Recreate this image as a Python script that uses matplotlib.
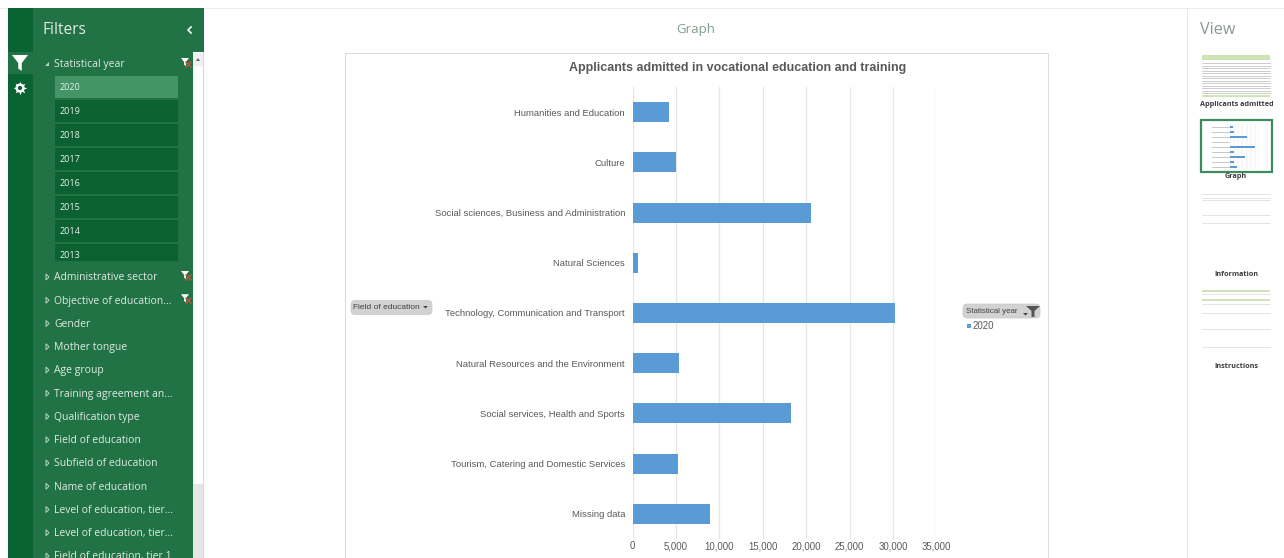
import matplotlib
matplotlib.use("Agg")
import matplotlib.pyplot as plt
from matplotlib.patches import Rectangle, FancyBboxPatch, Polygon, Circle
from matplotlib.ticker import FuncFormatter

W, H = 1284, 558
categories = ["Humanities and Education", "Culture", "Social sciences, Business and Administration",
              "Natural Sciences", "Technology, Communication and Transport",
              "Natural Resources and the Environment", "Social services, Health and Sports",
              "Tourism, Catering and Domestic Services", "Missing data"]
applicants = [4200, 5000, 20550, 600, 30250, 5350, 18250, 5250, 8900]
x_ticks = [0, 5000, 10000, 15000, 20000, 25000, 30000, 35000]
title = "Applicants admitted in vocational education and training"
years = ["2020", "2019", "2018", "2017", "2016", "2015", "2014", "2013"]
filters = ["Administrative sector", "Objective of education...", "Gender", "Mother tongue", "Age group",
           "Training agreement an...", "Qualification type", "Field of education", "Subfield of education",
           "Name of education", "Level of education, tier...", "Level of education, tier...", "Field of education, tier 1"]

UI = "Open Sans"
CH = "Liberation Sans"
fig = plt.figure(figsize=(W / 100, H / 100), dpi=100, facecolor="white")

ui = fig.add_axes([0, 0, 1, 1], zorder=0)
ui.set_xlim(0, W); ui.set_ylim(H, 0); ui.axis("off")

def rect(x0, y0, x1, y1, c, **k):
    ui.add_patch(Rectangle((x0, y0), x1 - x0, y1 - y0, fc=c, ec="none", **k))

def filter_icon(cx, cy, s, cross=False):
    ui.add_patch(Polygon([(cx - s, cy - s), (cx + s, cy - s), (cx + s * .22, cy), (cx + s * .22, cy + s),
                          (cx - s * .22, cy + s * .7), (cx - s * .22, cy)], fc="white", ec="none"))
    if cross:
        ui.plot([cx + 1, cx + 6], [cy, cy + 5], color="#c8503a", lw=1)
        ui.plot([cx + 1, cx + 6], [cy + 5, cy], color="#c8503a", lw=1)

GREEN, DARK = "#217346", "#0a6332"
rect(0, 8, W, 9, "#ececec")
rect(8, 8, 204, 558, GREEN)
rect(8, 8, 33, 558, DARK)
rect(8, 52, 33, 74, GREEN)
rect(193, 52, 204, 484, "white")
rect(193, 484, 204, 558, "#e6e6e6")
rect(203, 52, 204, 558, "#d8d8d8")
rect(193, 53, 203, 66, "#f0f0f0")
ui.add_patch(Polygon([(196, 61), (198, 58), (200, 61)], fc="#666666", ec="none"))
filter_icon(20, 63, 8)
# gear icon
ui.scatter([20], [88], s=95, marker=(8, 1, 0), color="white", zorder=3, linewidths=0)
ui.add_patch(Circle((20, 88), 4.6, fc="white", ec="none", zorder=3))
ui.add_patch(Circle((20, 88), 2.1, fc=DARK, ec="none", zorder=4))
ui.text(42, 30, "Filters", color="#dfeae4", fontsize=11.2, va="center", family=UI)
ui.plot([191, 188, 191], [27, 30, 33], color="white", lw=1.2)

ui.add_patch(Polygon([(45, 66), (49, 66), (49, 62)], fc="#b9d4c4", ec="none"))
ui.text(54, 64.8, "Statistical year", color="#dfeae4", fontsize=7.5, va="center", family=UI)
filter_icon(185, 62, 4, True)
item_tops = [76, 100, 124, 148, 172, 196, 220, 244]
item_bottoms = [98, 122, 146, 170, 194, 218, 242, 261]
for i, (yr, t, b) in enumerate(zip(years, item_tops, item_bottoms)):
    rect(55, t, 178, b, "#439467" if i == 0 else "#0c6132")
    ui.text(60, t + 11, yr, color="#e6f0ea", fontsize=6.5, va="center", family=UI)
for i, f in enumerate(filters):
    y = 277 + i * 23.25
    ui.add_patch(Polygon([(46, y - 3), (46, y + 3), (49, y)], fc="none", ec="#b9d4c4", lw=.7))
    ui.text(54, y + 1, f, color="#dfeae4", fontsize=7.5, va="center", family=UI, clip_on=True)
    if i < 2:
        filter_icon(185, y - 2, 4, True)

ui.text(696, 30, "Graph", color="#7fa08e", fontsize=9.5, ha="center", va="center", family=UI)
ui.add_patch(Rectangle((345, 52.5), 703, 520, fc="white", ec="#dcdcdc", lw=.8))

# pivot field buttons and legend
ui.add_patch(FancyBboxPatch((351, 300.5), 81, 14, boxstyle="round,pad=0,rounding_size=4", fc="#d2d2d2", ec="#c8c8c8", lw=.5))
ui.text(353, 307.5, "Field of education", color="#404040", fontsize=6, va="center", family=CH)
ui.add_patch(Polygon([(423, 306), (428, 306), (425.5, 308.5)], fc="#444444", ec="none"))
ui.add_patch(FancyBboxPatch((963, 304), 77, 14, boxstyle="round,pad=0,rounding_size=4", fc="#d2d2d2", ec="#c8c8c8", lw=.5))
ui.text(966, 311.3, "Statistical year", color="#404040", fontsize=5.7, va="center", family=CH)
ui.add_patch(Polygon([(1026, 306), (1040, 306), (1034.5, 311), (1034.5, 317), (1031.5, 317), (1031.5, 311)], fc="#555555", ec="none"))
ui.add_patch(Polygon([(1023, 313), (1028, 313), (1025.5, 315.5)], fc="#444444", ec="none"))
rect(967, 324, 971, 328, "#5b9bd5")
ui.text(973, 326, "2020", color="#595959", fontsize=7, va="center", family=CH)

# view pane
rect(1187, 8, 1188, 558, "#e8e8e8")
ui.text(1200, 30, "View", color="#8a9a92", fontsize=11.6, va="center", family=UI)
for lab, cy in [("Applicants admitted in", 105), ("Graph", 177), ("Information", 274), ("Instructions", 366)]:
    left = lab.startswith("App")
    t = ui.text(1200 if left else 1236, cy, lab, color="#3c3c3c", fontsize=5.2, fontweight="bold",
                ha="left" if left else "center", va="center", family=UI, clip_on=True)
    t.set_clip_path(Rectangle((1200, 90), 73, 300, transform=ui.transData))
rect(1202, 55, 1270, 60, "#cfe3b8")
rect(1202, 95, 1270, 97, "#cfe3b8")
for i in range(13):
    ui.plot([1202, 1270], [63 + i * 2.5] * 2, color="#b8b8b8", lw=.5)
ui.add_patch(Rectangle((1201, 119.5), 71, 52, fc="white", ec="#3f8a5f", lw=1.6))
for i in range(9):
    ui.plot([1212, 1229], [126.5 + i * 5] * 2, color="#b0b0b0", lw=.5)
for y in [194, 198, 200, 215, 223]:
    ui.plot([1202, 1270], [y, y], color="#d0d0d0", lw=.4)
rect(1202, 290, 1270, 292, "#cfe3b8"); rect(1202, 299, 1270, 301, "#cfe3b8")
for y in [294, 304, 313, 329, 347]:
    ui.plot([1202, 1270], [y, y], color="#d0d0d0", lw=.4)

# chart
L, R, T, B = 632.7, 936.4, 87, 539
ax = fig.add_axes([L / W, 1 - B / H, (R - L) / W, (B - T) / H], zorder=2)
ax.patch.set_alpha(0)
ax.barh(range(len(categories)), applicants, height=0.4, color="#5b9bd5", zorder=3)
ax.set_xlim(0, 35000)
ax.set_ylim(len(categories) - .5, -.5)
ax.set_yticks(range(len(categories)), categories)
ax.set_xticks(x_ticks)
ax.xaxis.set_major_formatter(FuncFormatter(lambda v, _: f"{int(v):,}"))
ax.grid(axis="x", color="#e6e6e6", lw=.9, zorder=0)
ax.set_axisbelow(True)
ax.tick_params(axis="x", length=0, labelsize=6.9, labelcolor="#595959", pad=1.5)
ax.tick_params(axis="y", length=0, labelsize=6.8, labelcolor="#595959", pad=5.5)
for t in ax.get_xticklabels() + ax.get_yticklabels():
    t.set_family(CH)
for s in ax.spines.values():
    s.set_visible(False)
ui.text(738, 67.5, title, color="#595959", fontsize=9.0, fontweight="bold", ha="center", va="center", family=CH)

# thumbnail of the chart
th = fig.add_axes([1230 / W, 1 - 169 / H, 29 / W, 45 / H], zorder=3)
th.patch.set_alpha(0)
th.barh(range(len(categories)), applicants, height=0.4, color="#5b9bd5")
th.set_xlim(0, 35000); th.set_ylim(len(categories) - .5, -.5)
th.set_xticks(x_ticks); th.set_yticks([])
th.tick_params(length=0, labelbottom=False)
th.grid(axis="x", color="#e2e2e2", lw=.3)
th.set_axisbelow(True)
for s in th.spines.values():
    s.set_visible(False)

fig.savefig("out.png", dpi=100)
